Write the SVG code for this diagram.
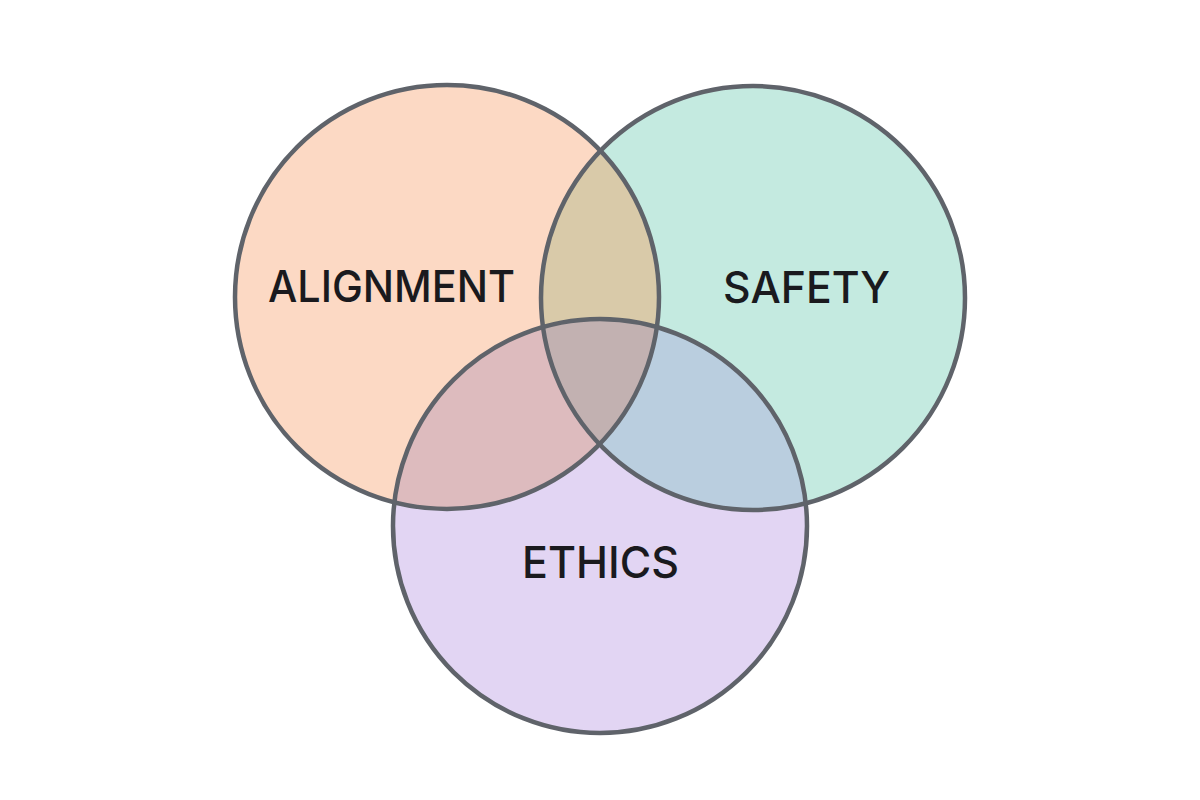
<svg xmlns="http://www.w3.org/2000/svg" width="1200" height="800" viewBox="0 0 1200 800">
  <style>
    .lbl { font-family: Inter, "Liberation Sans", Arial, sans-serif; font-size: 44px; font-weight: 500; fill: #1A1A1E; text-anchor: middle; }
    .ring { fill: none; stroke: #5F636A; stroke-width: 4.5; }
  </style>
  <defs>
    <clipPath id="clipA"><circle cx="447" cy="297" r="212"/></clipPath>
    <clipPath id="clipS"><circle cx="753" cy="298" r="212"/></clipPath>
    <clipPath id="clipE"><circle cx="600" cy="526" r="207"/></clipPath>
  </defs>
  <rect width="1200" height="800" fill="#FFFFFF"/>
  <g id="fills">
    <circle cx="447" cy="297" r="212" fill="#FCD9C4"/>
    <circle cx="753" cy="298" r="212" fill="#C4EAE0"/>
    <circle cx="600" cy="526" r="207" fill="#E2D5F3"/>
    <g clip-path="url(#clipA)">
      <circle cx="753" cy="298" r="212" fill="#D9CAA9"/>
      <circle cx="600" cy="526" r="207" fill="#DDBBBE"/>
    </g>
    <g clip-path="url(#clipS)">
      <circle cx="600" cy="526" r="207" fill="#BACEDF"/>
    </g>
    <g clip-path="url(#clipA)">
      <g clip-path="url(#clipS)">
        <circle cx="600" cy="526" r="207" fill="#C2B1B1"/>
      </g>
    </g>
  </g>
  <g id="alignment">
    <circle class="ring" cx="447" cy="297" r="212"/>
    <text class="lbl" x="391.5" y="302" textLength="247" lengthAdjust="spacingAndGlyphs">ALIGNMENT</text>
  </g>
  <g id="safety">
    <circle class="ring" cx="753" cy="298" r="212"/>
    <text class="lbl" x="806.5" y="303" textLength="167" lengthAdjust="spacingAndGlyphs">SAFETY</text>
  </g>
  <g id="ethics">
    <circle class="ring" cx="600" cy="526" r="207"/>
    <text class="lbl" x="600.5" y="578" textLength="157" lengthAdjust="spacingAndGlyphs">ETHICS</text>
  </g>
  <g id="connectors"></g>
</svg>
